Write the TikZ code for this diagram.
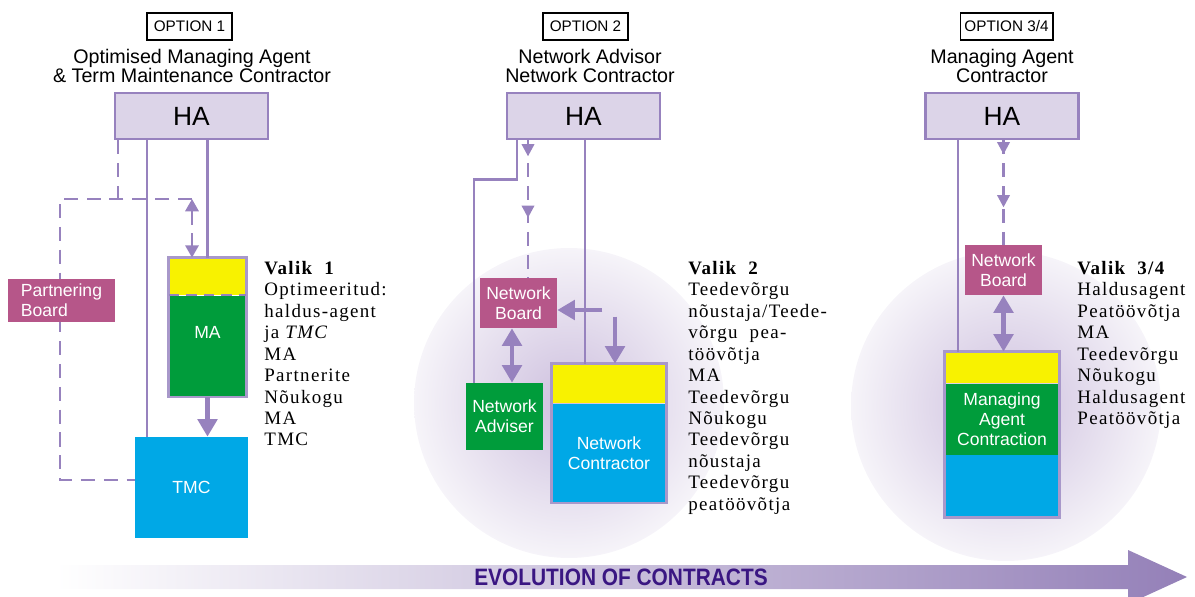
\documentclass[tikz,border=0pt]{standalone}
\usepackage{fontspec}
\setmainfont{Liberation Serif}
\setsansfont{Liberation Sans}
\usetikzlibrary{arrows.meta,positioning,decorations.markings}
\definecolor{linkpurple}{HTML}{9782BE}
\definecolor{edgepurple}{HTML}{A898CA}
\definecolor{habg}{HTML}{DCD4E8}
\definecolor{boardmauve}{HTML}{B65689}
\definecolor{agentgreen}{HTML}{009C3B}
\definecolor{contractcyan}{HTML}{00A8E6}
\definecolor{bandyellow}{HTML}{F8F200}
\definecolor{glowinner}{HTML}{CDBFDE}
\definecolor{glowouter}{HTML}{F6F4F9}
\definecolor{evopurple}{HTML}{9480B8}
\definecolor{evomid}{HTML}{DED5E9}
\definecolor{evotext}{HTML}{3A1682}
\tikzset{
  >=Latex,
  optionbox/.style={rectangle, draw=black, line width=0.6pt, minimum height=0.54cm,
    inner sep=0pt, font=\sffamily\fontsize{8.7}{10}\selectfont},
  heading/.style={align=center, inner sep=0pt, font=\sffamily\fontsize{11.2}{10.8}\selectfont},
  habox/.style={rectangle, fill=habg, draw=linkpurple, line width=1.6pt,
    minimum width=3.06cm, minimum height=0.92cm, font=\sffamily\fontsize{15}{16}\selectfont},
  board/.style={rectangle, fill=boardmauve, minimum width=1.54cm, minimum height=1cm,
    inner sep=0pt, align=center, text=white, font=\sffamily\fontsize{10}{11.4}\selectfont},
  band/.style={rectangle, inner sep=0pt, align=center, text=white,
    font=\sffamily\fontsize{10}{11.4}\selectfont},
  stackedge/.style={draw=edgepurple, line width=1.6pt},
  haline/.style={draw=linkpurple, line width=1.5pt},
  dashlink/.style={haline, dash pattern=on 8pt off 5pt},
  dashflow/.style 2 args={dashlink, postaction={decorate}, decoration={markings,
    mark=at position #1 with {\arrow[linkpurple]{Triangle[width=7pt,length=7pt]}},
    mark=at position #2 with {\arrow[linkpurple]{Triangle[width=7pt,length=7pt]}}}},
  bigarrow/.style={draw=linkpurple, line width=2.8pt, -{Triangle[width=11pt,length=10pt]}},
  bigboth/.style={draw=linkpurple, line width=2.8pt,
    {Triangle[width=11pt,length=10pt]}-{Triangle[width=11pt,length=10pt]}},
  valik/.style={anchor=north west, align=left, inner sep=0pt,
    font=\fontsize{10.8}{12.2}\selectfont\addfontfeatures{LetterSpace=7}}
}

\begin{document}
\begin{tikzpicture}[x=0.02cm, y=-0.02cm]
\useasboundingbox (0,0) rectangle (1195,597);
% glow behind options 2 and 3/4
\shade[inner color=glowinner, outer color=glowouter] (569,403) circle (3.1cm);
\shade[inner color=glowinner, outer color=glowouter] (1006,406) circle (3.1cm);
% evolution arrow
\shade[left color=white, middle color=evomid, right color=evopurple]
  (55,565) -- (1128,565) -- (1128,550) -- (1187,577) -- (1128,604) -- (1128,589) -- (55,589) -- cycle;
\node[font=\sffamily\bfseries\fontsize{13.5}{13.5}\selectfont, text=evotext, xscale=0.88] (evo) at (621,577) {EVOLUTION OF CONTRACTS};

% option 1
\node[optionbox, minimum width=1.7cm] (opt1) at (189.5,26.5) {OPTION 1};
\node[heading] (title1) at (192,66) {Optimised Managing Agent\\\& Term Maintenance Contractor};
\node[habox] (ha1) at (191.5,116) {HA};
\node[band, fill=bandyellow, minimum width=1.54cm, minimum height=0.74cm] (ma-top) at (207.5,276.5) {};
\node[band, fill=agentgreen, minimum width=1.54cm, minimum height=2.02cm, below=0pt of ma-top] (ma) {MA\\[0.15cm]};
\draw[stackedge] (ma-top.north west) rectangle (ma.south east);
\draw[dashlink, line width=1.2pt, dash pattern=on 6pt off 4pt] (ma.north west) -- (ma.north east);
\node[band, fill=contractcyan, minimum width=2.26cm, minimum height=2.02cm] (tmc) at (191.5,487.5) {TMC};
\coordinate (pbcorner) at (60,199);
\coordinate (pbjoin) at (192,199);
\draw[dashlink] ([xshift=-1.47cm]ha1.south) -- ([xshift=-1.47cm]ha1.south |- pbjoin);
\draw[dashlink] (pbjoin) -- (pbcorner) |- ([yshift=0.15cm]tmc.west);
\draw[dashlink, {Triangle[width=7.5pt,length=7pt]}-{Triangle[width=7.5pt,length=7pt]}] (pbjoin) -- (pbjoin |- ma-top.north);
\draw[haline] ([xshift=-0.89cm]ha1.south) -- ([xshift=-0.89cm]ha1.south |- tmc.north);
\draw[haline] (ma-top.north |- ha1.south) -- (ma-top.north);
\draw[bigarrow] (ma.south) -- (ma.south |- tmc.north);
\node[board, minimum width=2.14cm, minimum height=0.86cm, align=left] (pb) at (61.5,300.5) {Partnering\\Board};
\node[valik] (valik1) at (264,261) {\textbf{Valik\ \ 1}\\Optimeeritud:\\haldus-agent\\ja \textit{TMC}\\MA\\Partnerite\\Nõukogu\\MA\\TMC};

% option 2
\node[optionbox, minimum width=1.7cm] (opt2) at (585.5,26.5) {OPTION 2};
\node[heading] (title2) at (590,66) {Network Advisor\\Network Contractor};
\node[habox] (ha2) at (583.5,116) {HA};
\node[board] (nb2) at (518.5,303) {Network\\Board};
\node[band, fill=agentgreen, minimum width=1.54cm, minimum height=1.34cm] (na2) at (504.5,416.5) {Network\\Adviser};
\node[band, fill=bandyellow, minimum width=2.28cm, minimum height=0.78cm] (nc-top) at (609,383.5) {};
\node[band, fill=contractcyan, minimum width=2.28cm, minimum height=1.98cm, below=0pt of nc-top] (nc) {Network\\Contractor};
\draw[stackedge] (nc-top.north west) rectangle (nc.south east);
\draw[haline] ([xshift=-1.33cm]ha2.south) -- ++(0,39) -| ([xshift=-0.61cm]na2.north);
\draw[dashflow={0.32cm}{1.55cm}] ([xshift=0.19cm]nb2.north |- ha2.south) -- ([xshift=0.19cm]nb2.north);
\draw[haline] ([xshift=-0.48cm]nc-top.north |- ha2.south) -- ([xshift=-0.48cm]nc-top.north);
\draw[bigarrow] ([xshift=0.9cm,yshift=-0.14cm]nb2.east) -- ([yshift=-0.14cm]nb2.east);
\draw[bigarrow] ([xshift=0.12cm,yshift=0.94cm]nc-top.north) -- ([xshift=0.12cm]nc-top.north);
\draw[bigboth] ([xshift=-0.13cm]nb2.south) -- ([xshift=-0.13cm]nb2.south |- na2.north);
\node[valik] (valik2) at (688,261) {\textbf{Valik\ \ 2}\\Teedevõrgu\\nõustaja/Teede-\\võrgu\ \ pea-\\töövõtja\\MA\\Teedevõrgu\\Nõukogu\\Teedevõrgu\\nõustaja\\Teedevõrgu\\peatöövõtja};

% option 3/4
\node[optionbox, minimum width=1.86cm] (opt3) at (1006.5,26.5) {OPTION 3/4};
\node[heading] (title3) at (1002,66) {Managing Agent\\Contractor};
\node[habox] (ha3) at (1002,116) {HA};
\node[board] (nb3) at (1003.5,270) {Network\\Board};
\node[band, fill=bandyellow, minimum width=2.28cm, minimum height=0.62cm] (mac-top) at (1002,367.5) {};
\node[band, fill=agentgreen, minimum width=2.28cm, minimum height=1.42cm, below=0pt of mac-top] (mac) {Managing\\Agent\\Contraction};
\node[band, fill=contractcyan, minimum width=2.28cm, minimum height=1.24cm, below=0pt of mac] (mac-low) {};
\draw[stackedge] (mac-top.north west) rectangle (mac-low.south east);
\draw[haline] ([xshift=-0.88cm]mac-top.north |- ha3.south) -- ([xshift=-0.88cm]mac-top.north);
\draw[dashflow={0.28cm}{1.34cm}] (nb3.north |- ha3.south) -- (nb3.north);
\draw[bigboth] (nb3.south) -- (nb3.south |- mac-top.north);
\node[valik] (valik3) at (1077,261) {\textbf{Valik\ \ 3/4}\\Haldusagent\\Peatöövõtja\\MA\\Teedevõrgu\\Nõukogu\\Haldusagent\\Peatöövõtja};
\end{tikzpicture}
\end{document}
